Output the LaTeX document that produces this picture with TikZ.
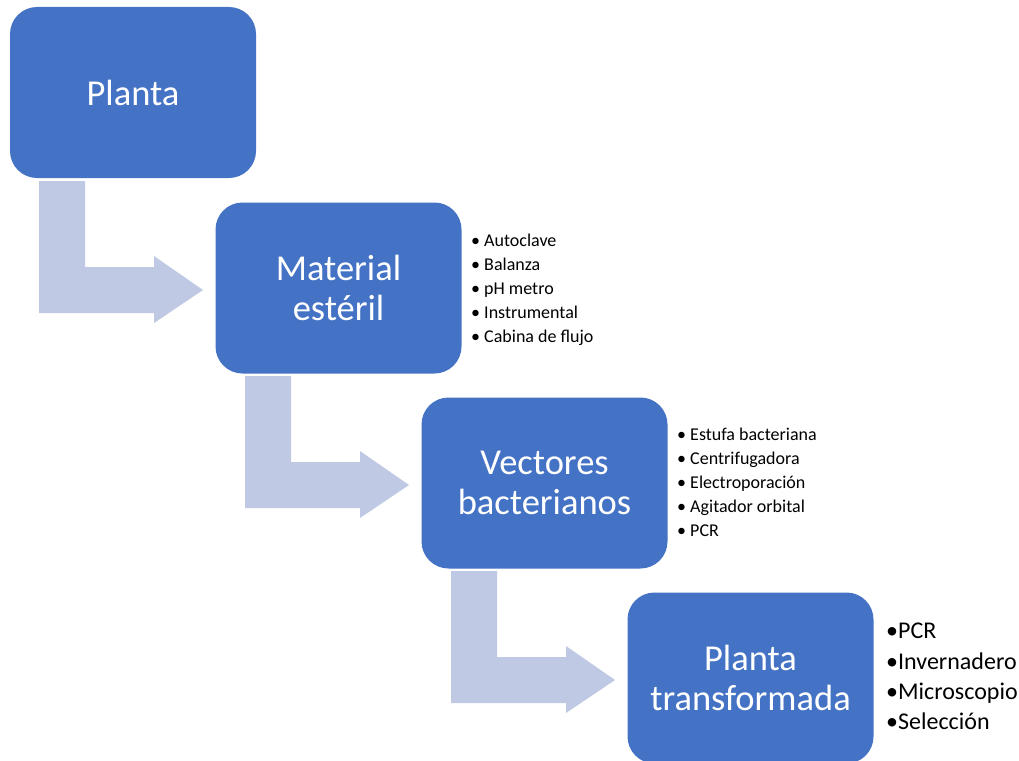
\documentclass[tikz,border=0pt]{standalone}
\usepackage{fontspec}
\setmainfont{Carlito}
\definecolor{boxblue}{HTML}{4472C4}
\definecolor{arrowblue}{HTML}{BFC9E3}
\begin{document}
\begin{tikzpicture}[x=1pt,y=-1pt,
  stage/.style={draw=none,fill=boxblue,rounded corners=27pt,minimum width=246pt,minimum height=171pt,
    text=white,align=center,font=\fontsize{36.5}{40}\selectfont,inner sep=0pt},
  bent/.style={fill=arrowblue,draw=none},
  smalllist/.style={anchor=north west,align=left,inner sep=0pt,font=\fontsize{18}{24}\selectfont},
  biglist/.style={anchor=north west,align=left,inner sep=0pt,font=\fontsize{24}{30.3}\selectfont}]
\useasboundingbox (0,0) rectangle (1019,760);
\clip (0,0) rectangle (1019,760);
% bent arrows
\foreach \dx/\dy in {0/0,206/195,412/390}{
  \fill[bent,shift={(\dx,\dy)}] (39,181) -- (85,181) -- (85,267) -- (154,267) -- (154,256) -- (203,290)
     -- (154,323) -- (154,313) -- (39,313) -- cycle;
}
\node[stage] (s1) at (133,92.5) {Planta};
\node[stage] (s2) at (338.5,288) {Material\\estéril};
\node[stage] (s3) at (544.5,483) {Vectores\\bacterianos};
\node[stage] (s4) at (750.5,678) {Planta\\transformada};
\node[smalllist] (l2) at (471,233.5) {• Autoclave\\• Balanza\\• pH metro\\• Instrumental\\• Cabina de flujo};
\node[smalllist] (l3) at (677,427.5) {• Estufa bacteriana\\• Centrifugadora\\• Electroporación\\• Agitador orbital\\• PCR};
\node[biglist] (l4) at (886,623) {•PCR\\•Invernadero\\•Microscopio\\•Selección};
\end{tikzpicture}
\end{document}
